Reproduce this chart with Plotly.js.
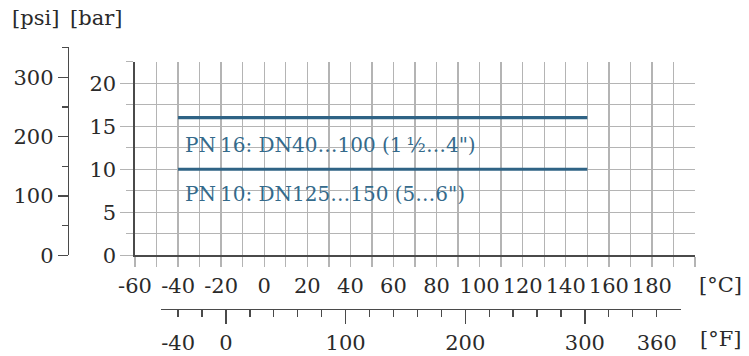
<!DOCTYPE html>
<html><head><meta charset="utf-8">
<script src="https://cdn.plot.ly/plotly-3.0.1.min.js"></script>
<style>html,body{margin:0;padding:0;background:#fff}#chart{width:749px;height:356px}</style>
</head><body><div id="chart"></div>
<script>
// ---- data ----
const seriesNames = ['PN\u200916: DN40…100 (1\u2009½…4")', 'PN\u200910: DN125…150 (5…6")'];
const seriesTempC = [[-40, 150], [-40, 150]];
const seriesPressureBar = [[16, 16], [10, 10]];
const celsiusTicks = [-60, -40, -20, 0, 20, 40, 60, 80, 100, 120, 140, 160, 180];
const celsiusLabels = ['-60', '-40', '-20', '0', '20', '40', '60', '80', '100', '120', '140', '160', '180'];
const barTicks = [0, 5, 10, 15, 20];
const barLabels = ['0', '5', '10', '15', '20'];
const psiTicks = [0, 100, 200, 300];
const psiLabels = ['0', '100', '200', '300'];
const psiMinorTicks = [50, 150, 250, 350];
const fahrenheitTicks = [-40, -20, 0, 20, 40, 60, 80, 100, 120, 140, 160, 180, 200, 220, 240, 260, 280, 300, 320, 340, 360];
const fahrenheitLabels = ['-40', '', '0', '', '', '', '', '100', '', '', '', '', '200', '', '', '', '', '300', '', '', '360'];
const fahrenheitMajor = [0, 100, 200, 300];

// ---- layout helpers ----
const W = 749, H = 356;
const fx = p => p / W, fy = p => 1 - p / H;
const FONT = 'DejaVu Serif';
const FS = 21;
const TXT = '#2a2a2a', LINE = '#2f6385', GRID = '#b4b4b4', AX = '#4a4a4a';
const cRange = [-60, 200], cPx = [135, 695];
const fRange = [-54, 380];
const c2px = c => cPx[0] + (c - cRange[0]) / (cRange[1] - cRange[0]) * (cPx[1] - cPx[0]);
const f2c = f => (f - 32) / 1.8;
const fDomain = [fx(c2px(f2c(fRange[0]))), fx(c2px(f2c(fRange[1])))];

const traces = seriesNames.map((n, i) => ({
  x: seriesTempC[i], y: seriesPressureBar[i], name: n, type: 'scatter', mode: 'lines',
  line: {color: LINE, width: 3.2}, xaxis: 'x', yaxis: 'y', hoverinfo: 'skip', showlegend: false
}));
traces.push({x: [0], y: [0], xaxis: 'x2', yaxis: 'y2', mode: 'markers', marker: {opacity: 0}, showlegend: false, hoverinfo: 'skip'});
traces.push({x: [0], y: [0], xaxis: 'x3', yaxis: 'y2', mode: 'markers', marker: {opacity: 0}, showlegend: false, hoverinfo: 'skip'});

const tickFont = {family: FONT, size: FS, color: TXT};
const layout = {
  width: W, height: H, margin: {l: 0, r: 0, t: 0, b: 0}, autosize: false,
  paper_bgcolor: '#fff', plot_bgcolor: 'rgba(0,0,0,0)', showlegend: false,
  font: {family: FONT, size: FS, color: TXT},
  xaxis: {
    domain: [fx(cPx[0]), fx(cPx[1])], range: cRange, anchor: 'y',
    tickmode: 'array', tickvals: celsiusTicks, ticktext: celsiusLabels,
    ticks: 'outside', ticklen: 10, tickwidth: 1.4, tickcolor: GRID,
    showgrid: true, gridcolor: GRID, gridwidth: 1.4, zeroline: false,
    showline: true, linecolor: AX, linewidth: 1.6, tickfont: tickFont, ticklabelstandoff: 1,
    minor: {dtick: 10, tick0: 0, ticks: 'outside', ticklen: 10, tickwidth: 1.4, tickcolor: GRID, showgrid: true, gridcolor: GRID, gridwidth: 1.4}
  },
  yaxis: {
    domain: [fy(255.3), fy(61.7)], range: [0, 22.5], anchor: 'x',
    tickmode: 'array', tickvals: barTicks, ticktext: barLabels,
    ticks: 'outside', ticklen: 13, tickwidth: 1.4, tickcolor: GRID,
    showgrid: true, gridcolor: GRID, gridwidth: 1.4, zeroline: false,
    showline: true, linecolor: AX, linewidth: 1.6, tickfont: tickFont,
    minor: {dtick: 2.5, tick0: 0, ticks: 'outside', ticklen: 7, tickwidth: 1.4, tickcolor: GRID, showgrid: true, gridcolor: GRID, gridwidth: 1.4}
  },
  yaxis2: {
    domain: [fy(255.3), fy(47.3)], range: [0, 350.6], anchor: 'free', position: fx(67.7), side: 'left',
    tickmode: 'array', tickvals: psiTicks, ticktext: psiLabels,
    ticks: 'outside', ticklen: 10, tickwidth: 1.3, tickcolor: AX,
    showgrid: false, zeroline: false, showline: true, linecolor: AX, linewidth: 1.4, tickfont: tickFont,
    minor: {tickmode: 'array', tickvals: psiMinorTicks, ticks: 'outside', ticklen: 6, tickwidth: 1.3, tickcolor: AX, showgrid: false}
  },
  xaxis2: {
    domain: fDomain, range: fRange, anchor: 'free', position: fy(309), side: 'bottom',
    tickmode: 'array', tickvals: fahrenheitTicks, ticktext: fahrenheitLabels,
    ticks: 'outside', ticklen: 7, tickwidth: 1.3, tickcolor: AX,
    showgrid: false, zeroline: false, showline: true, linecolor: AX, linewidth: 1.4, tickfont: tickFont, ticklabelstandoff: 7
  },
  xaxis3: {
    domain: fDomain, range: fRange, anchor: 'free', position: fy(309), side: 'bottom',
    tickmode: 'array', tickvals: fahrenheitMajor, showticklabels: false,
    ticks: 'outside', ticklen: 14, tickwidth: 1.3, tickcolor: AX,
    showgrid: false, zeroline: false, showline: false
  },
  annotations: [
    {text: seriesNames[0], xref: 'x', yref: 'y', x: -37.5, y: 12.8, xanchor: 'left', yanchor: 'middle', showarrow: false, font: {family: FONT, size: 20, color: '#346a8b'}},
    {text: seriesNames[1], xref: 'x', yref: 'y', x: -37.5, y: 7.1, xanchor: 'left', yanchor: 'middle', showarrow: false, font: {family: FONT, size: 20, color: '#346a8b'}},
    {text: '[°C]', xref: 'paper', yref: 'paper', x: fx(720), y: fy(285), xanchor: 'center', yanchor: 'middle', showarrow: false, font: tickFont},
    {text: '[°F]', xref: 'paper', yref: 'paper', x: fx(720), y: fy(339), xanchor: 'center', yanchor: 'middle', showarrow: false, font: tickFont},
    {text: '[psi]', xref: 'paper', yref: 'paper', x: fx(35), y: fy(18), xanchor: 'center', yanchor: 'middle', showarrow: false, font: tickFont},
    {text: '[bar]', xref: 'paper', yref: 'paper', x: fx(96), y: fy(18), xanchor: 'center', yanchor: 'middle', showarrow: false, font: tickFont}
  ]
};
Plotly.newPlot('chart', traces, layout, {staticPlot: true, displayModeBar: false});
</script></body></html>
